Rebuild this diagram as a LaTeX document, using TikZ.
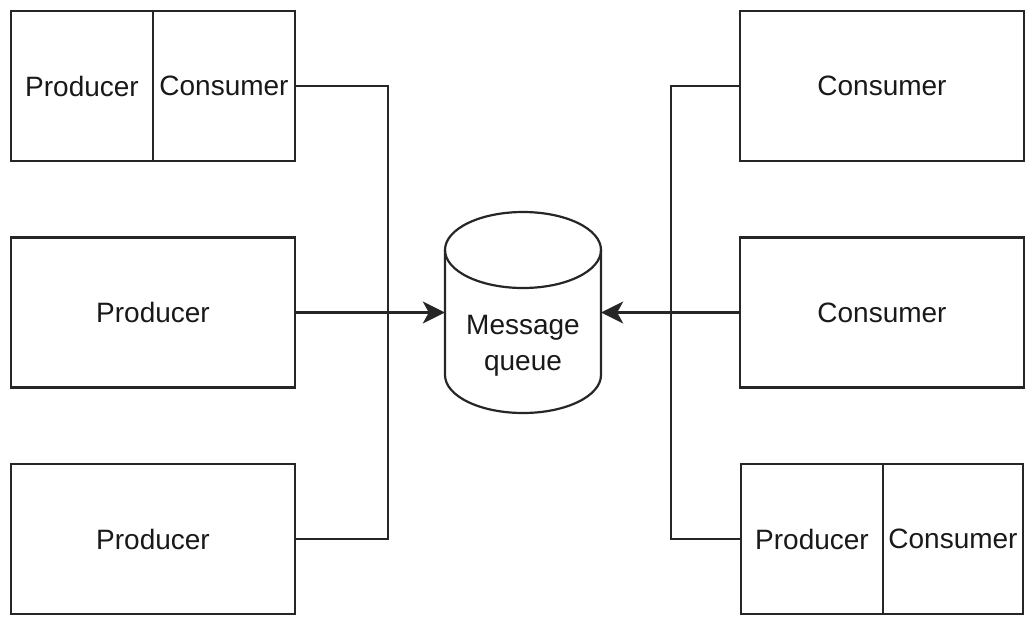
\documentclass[tikz,border=0pt]{standalone}
\usepackage{fontspec}
\setmainfont{Liberation Sans}
\usetikzlibrary{arrows.meta}
\begin{document}
\begin{tikzpicture}[x=1pt,y=-1pt,
  stroke/.style={line width=2.2pt,draw=black!85},
  box/.style={stroke,rectangle,minimum height=150pt,inner sep=0pt,
    font=\fontsize{28}{34}\selectfont,text=black!90},
  wide/.style={box,minimum width=284pt},
  half/.style={box,minimum width=142pt},
  link/.style={line width=2.2pt,draw=black!85},
  feed/.style={link,-{Stealth[length=22pt,width=22pt,inset=6pt]}}]
\useasboundingbox (0,0) rectangle (1025,616);

% producers on the left
\node[half] (tlP) at (82,86) {Producer};
\node[half] (tlC) at (224,86) {Consumer};
\node[wide] (ml) at (153,312.5) {Producer};
\node[wide] (bl) at (153,539) {Producer};

% consumers on the right
\node[wide] (tr) at (882,86) {Consumer};
\node[wide] (mr) at (882,312.5) {Consumer};
\node[half] (brP) at (812,539) {Producer};
\node[box,minimum width=140pt] (brC) at (953,539) {Consumer};

% message queue cylinder
\node[minimum width=156pt,minimum height=201pt,inner sep=0pt] (mq) at (523,312.5) {};
\fill[white] (445,250) -- (445,375) arc[start angle=180,end angle=360,x radius=78pt,y radius=38pt] -- (601,250) arc[start angle=0,end angle=180,x radius=78pt,y radius=38pt] -- cycle;
\draw[stroke] (445,250) -- (445,375) arc[start angle=180,end angle=360,x radius=78pt,y radius=38pt] -- (601,250);
\draw[stroke] (523,250) ellipse [x radius=78pt,y radius=38pt];
\node[font=\fontsize{28}{36}\selectfont,text=black!90,align=center] (mqlabel) at (523,346) {Message\\queue};

% bus lines and arrows
\coordinate (lbus) at (388,313);
\coordinate (rbus) at (671,313);
\draw[link] (tlC.east) -| (lbus) |- (bl.east);
\draw[feed] (ml.east) -- (mq.west);
\draw[link] (tr.west) -| (rbus) |- (brP.west);
\draw[feed] (mr.west) -- (mq.east);
\end{tikzpicture}
\end{document}
